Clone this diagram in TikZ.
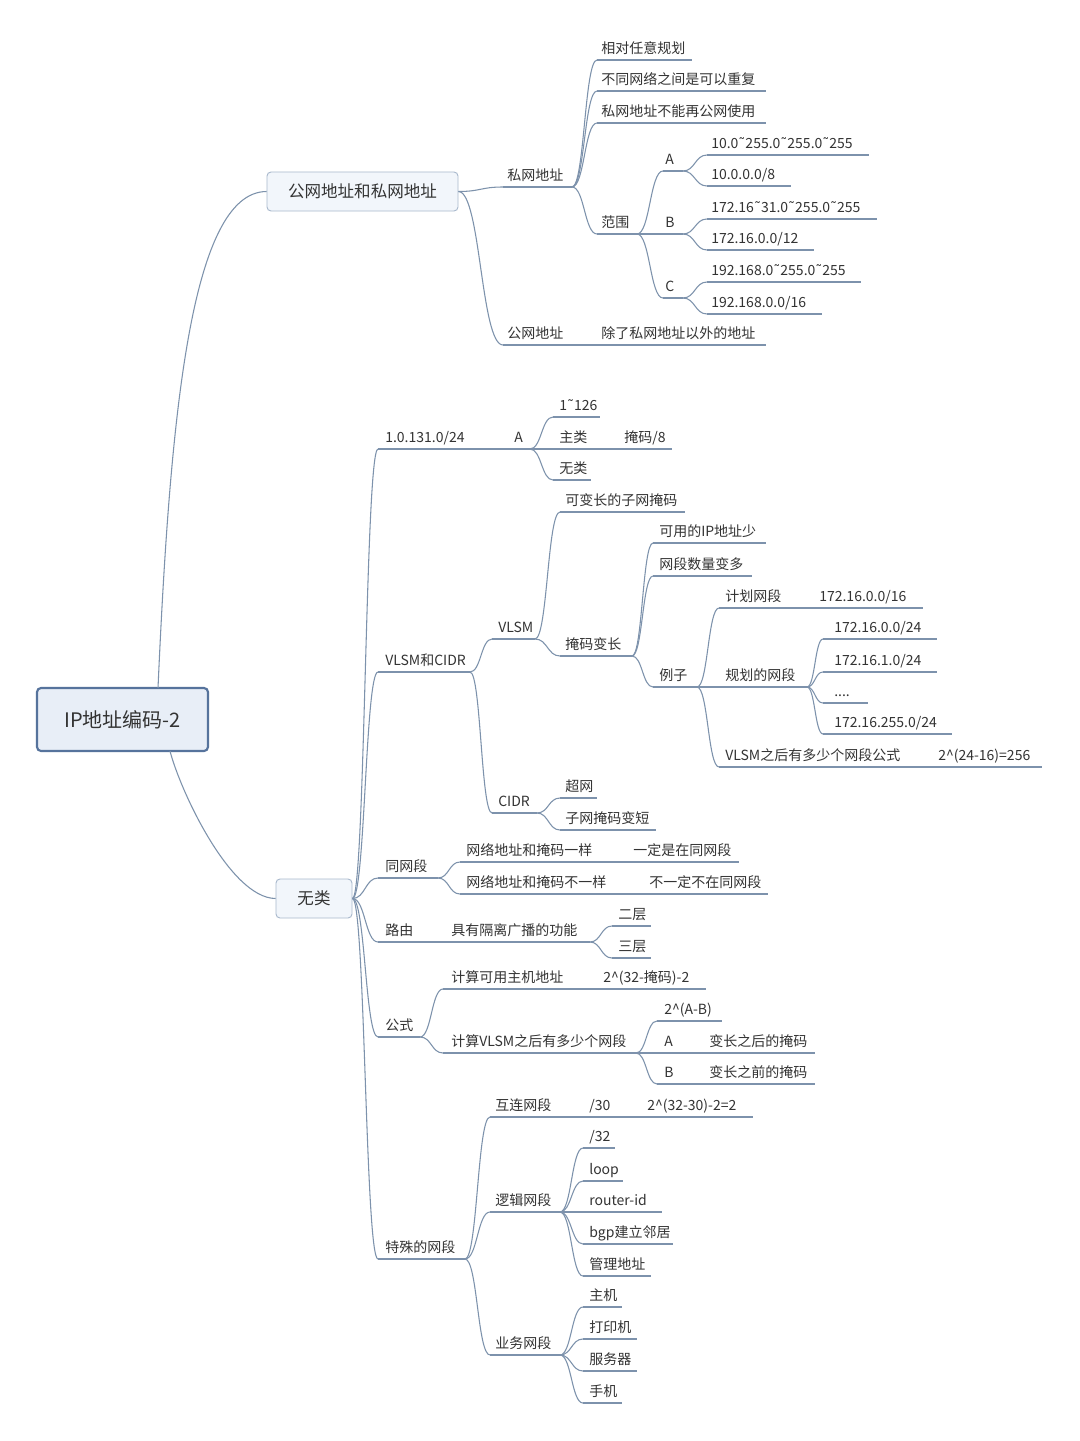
\documentclass[tikz,border=0pt]{standalone}
\usepackage{fontspec}
\setmainfont{Noto Sans CJK SC}
\newfontfamily\dejavu{DejaVu Sans}
\newcommand\tld{{\dejavu\char"02DC}}
\usetikzlibrary{calc}
\definecolor{lnc}{HTML}{7D92AC}
\definecolor{txc}{HTML}{333333}
\definecolor{rootfill}{HTML}{E8EEF7}
\definecolor{rootdraw}{HTML}{56739C}
\definecolor{boxfill}{HTML}{F2F6FB}
\definecolor{boxdraw}{HTML}{A9B9CD}
\tikzset{
  ln/.style={draw=lnc, line width=0.8pt},
  txt/.style={anchor=base west, inner sep=0pt, text=txc, font=\fontsize{10.5pt}{12pt}\selectfont},
  rootbox/.style={draw=rootdraw, line width=1.6pt, fill=rootfill, rounded corners=3pt, text=txc,
    minimum width=128.25pt, minimum height=47.25pt, font=\fontsize{15pt}{18pt}\selectfont},
  mainbox/.style={draw=boxdraw, line width=0.7pt, fill=boxfill, rounded corners=3pt, text=txc,
    minimum height=29.25pt, font=\fontsize{12.4pt}{15pt}\selectfont},
}
\newcommand\topic[6]{%
  \coordinate (#1-l) at (#2,#4);
  \coordinate (#1-r) at (#3,#4);
  \node[txt] (#1) at (#5,#4-6.5) {#6};
  \draw[ln] (#1-l) -- (#1-r);
}
\newcommand\conn[2]{\draw[ln] (#1-r) .. controls ($(#1-r)!0.5!(#2-l |- #1-r)$) and ($(#2-l)!0.5!(#1-r |- #2-l)$) .. (#2-l);}
\begin{document}
\begin{tikzpicture}[x=0.75pt, y=-0.75pt]
\useasboundingbox[fill=white] (0,0) rectangle (1080,1441);

% boxes
\node[rootbox] (root) at (122.5,719.5) {IP地址编码-2};
\node[mainbox, minimum width=143.25pt] (b1) at (362.5,191.5) {公网地址和私网地址};
\node[mainbox, minimum width=57pt] (b2) at (314,898.5) {无类};
\coordinate (b1-r) at (b1.east);
\coordinate (b2-r) at (b2.east);
\coordinate (root-t) at (158,688);
\coordinate (root-b) at (170,751);

\draw[ln] (root-t) .. controls (170,420) and (190,192) .. (b1.west);
\draw[ln] (root-b) .. controls (180,790) and (230,898) .. (b2.west);

% ---- 公网地址和私网地址
\topic{sw}{503}{572}{187}{507}{私网地址}
\topic{sw1}{597}{692}{60}{601}{相对任意规划}
\topic{sw2}{597}{766}{91}{601}{不同网络之间是可以重复}
\topic{sw3}{597}{766}{123}{601}{私网地址不能再公网使用}
\topic{fw}{597}{637}{234}{601}{范围}
\topic{fa}{663}{683}{171}{665}{A}
\topic{fa1}{707}{869}{155}{711}{10.0\tld255.0\tld255.0\tld255}
\topic{fa2}{707}{791}{186}{711}{10.0.0.0/8}
\topic{fb}{663}{683}{234}{665}{B}
\topic{fb1}{707}{877}{219}{711}{172.16\tld31.0\tld255.0\tld255}
\topic{fb2}{707}{814}{250}{711}{172.16.0.0/12}
\topic{fc}{663}{683}{298}{665}{C}
\topic{fc1}{707}{861}{282}{711}{192.168.0\tld255.0\tld255}
\topic{fc2}{707}{822}{314}{711}{192.168.0.0/16}
\topic{gw}{503}{590}{345}{507}{公网地址}
\topic{gw1}{590}{766}{345}{601}{除了私网地址以外的地址}

\conn{b1}{sw}\conn{b1}{gw}
\conn{sw}{sw1}\conn{sw}{sw2}\conn{sw}{sw3}\conn{sw}{fw}
\conn{fw}{fa}\conn{fw}{fb}\conn{fw}{fc}
\conn{fa}{fa1}\conn{fa}{fa2}
\conn{fb}{fb1}\conn{fb}{fb2}
\conn{fc}{fc1}\conn{fc}{fc2}

% ---- 无类
\topic{c1}{378}{505}{449}{385}{1.0.131.0/24}
\topic{c1a}{505}{530}{449}{514}{A}
\topic{c1a1}{553}{600}{417}{559}{1\tld126}
\topic{c1a2}{530}{612}{449}{559}{主类}
\topic{c1a2a}{612}{672}{449}{624}{掩码/8}
\topic{c1a3}{553}{591}{480}{559}{无类}

\topic{v}{378}{470}{672}{385}{VLSM和CIDR}
\topic{vl}{492}{535}{639}{498}{VLSM}
\topic{vl1}{560}{685}{512}{565}{可变长的子网掩码}
\topic{vl2}{560}{632}{656}{565}{掩码变长}
\topic{vl21}{653}{766}{543}{659}{可用的IP地址少}
\topic{vl22}{653}{752}{576}{659}{网段数量变多}
\topic{vl23}{653}{697}{687}{659}{例子}
\topic{ex1}{719}{810}{608}{725}{计划网段}
\topic{ex1a}{810}{923}{608}{819}{172.16.0.0/16}
\topic{ex2}{697}{807}{687}{725}{规划的网段}
\topic{ex21}{823}{937}{639}{834}{172.16.0.0/24}
\topic{ex22}{823}{937}{672}{834}{172.16.1.0/24}
\topic{ex23}{823}{868}{703}{834}{....}
\topic{ex24}{823}{952}{734}{834}{172.16.255.0/24}
\topic{ex3}{719}{930}{767}{725}{VLSM之后有多少个网段公式}
\topic{ex3a}{930}{1042}{767}{938}{2\textasciicircum(24-16)=256}
\topic{ci}{492}{537}{813}{498}{CIDR}
\topic{ci1}{560}{597}{798}{565}{超网}
\topic{ci2}{560}{656}{830}{565}{子网掩码变短}

\topic{tw}{378}{438}{878}{385}{同网段}
\topic{tw1}{460}{625}{862}{466}{网络地址和掩码一样}
\topic{tw1a}{625}{739}{862}{633}{一定是在同网段}
\topic{tw2}{460}{640}{894}{466}{网络地址和掩码不一样}
\topic{tw2a}{640}{768}{894}{649}{不一定不在同网段}

\topic{ly}{378}{445}{942}{385}{路由}
\topic{ly1}{445}{590}{942}{451}{具有隔离广播的功能}
\topic{ly11}{612}{651}{926}{618}{二层}
\topic{ly12}{612}{651}{958}{618}{三层}

\topic{gs}{378}{420}{1037}{385}{公式}
\topic{gs1}{443}{595}{989}{451}{计算可用主机地址}
\topic{gs1a}{595}{706}{989}{603}{2\textasciicircum(32-掩码)-2}
\topic{gs2}{443}{636}{1053}{451}{计算VLSM之后有多少个网段}
\topic{gs21}{657}{722}{1021}{664}{2\textasciicircum(A-B)}
\topic{gs22}{636}{700}{1053}{664}{A}
\topic{gs22a}{700}{815}{1053}{709}{变长之后的掩码}
\topic{gs23}{657}{700}{1084}{664}{B}
\topic{gs23a}{700}{815}{1084}{709}{变长之前的掩码}

\topic{ts}{378}{465}{1259}{385}{特殊的网段}
\topic{ts1}{490}{580}{1117}{495}{互连网段}
\topic{ts1a}{580}{640}{1117}{589}{/30}
\topic{ts1b}{640}{753}{1117}{647}{2\textasciicircum(32-30)-2=2}
\topic{ts2}{490}{560}{1212}{495}{逻辑网段}
\topic{ts21}{583}{615}{1148}{589}{/32}
\topic{ts22}{583}{623}{1181}{589}{loop}
\topic{ts23}{560}{662}{1212}{589}{router-id}
\topic{ts24}{583}{673}{1244}{589}{bgp建立邻居}
\topic{ts25}{583}{651}{1276}{589}{管理地址}
\topic{ts3}{490}{560}{1355}{495}{业务网段}
\topic{ts31}{583}{622}{1307}{589}{主机}
\topic{ts32}{583}{637}{1339}{589}{打印机}
\topic{ts33}{583}{637}{1371}{589}{服务器}
\topic{ts34}{583}{622}{1403}{589}{手机}

\conn{b2}{c1}\conn{b2}{v}\conn{b2}{tw}\conn{b2}{ly}\conn{b2}{gs}\conn{b2}{ts}
\conn{c1a}{c1a1}\conn{c1a}{c1a3}
\conn{v}{vl}\conn{v}{ci}
\conn{vl}{vl1}\conn{vl}{vl2}
\conn{vl2}{vl21}\conn{vl2}{vl22}\conn{vl2}{vl23}
\conn{vl23}{ex1}\conn{vl23}{ex3}
\conn{ex2}{ex21}\conn{ex2}{ex22}\conn{ex2}{ex23}\conn{ex2}{ex24}
\conn{ci}{ci1}\conn{ci}{ci2}
\conn{tw}{tw1}\conn{tw}{tw2}
\conn{ly1}{ly11}\conn{ly1}{ly12}
\conn{gs}{gs1}\conn{gs}{gs2}
\conn{gs2}{gs21}\conn{gs2}{gs23}
\conn{ts}{ts1}\conn{ts}{ts2}\conn{ts}{ts3}
\conn{ts2}{ts21}\conn{ts2}{ts22}\conn{ts2}{ts24}\conn{ts2}{ts25}
\conn{ts3}{ts31}\conn{ts3}{ts32}\conn{ts3}{ts33}\conn{ts3}{ts34}
\end{tikzpicture}
\end{document}
